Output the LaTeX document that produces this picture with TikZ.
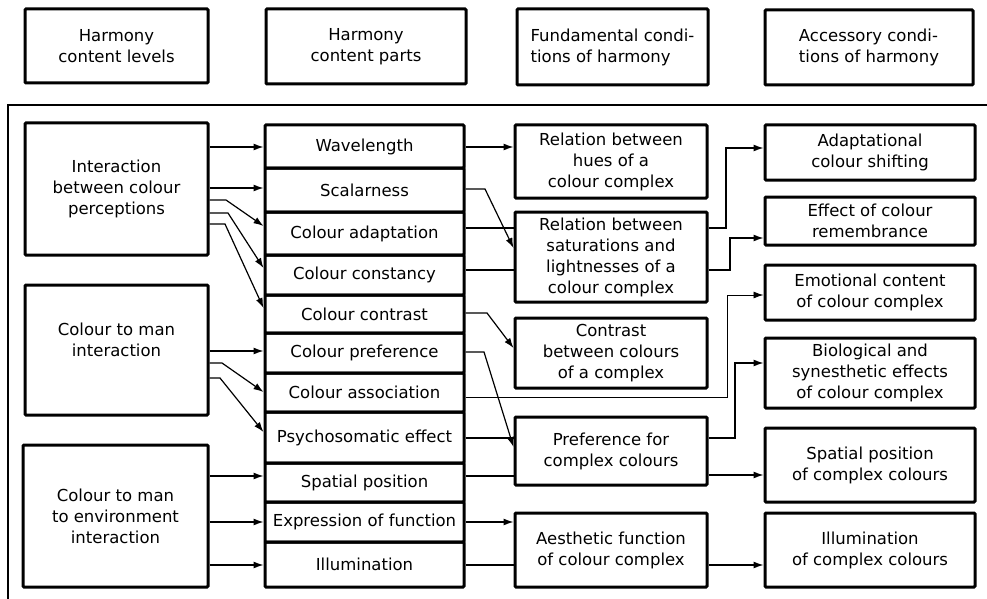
\documentclass[tikz,border=0pt]{standalone}
\usepackage{fontspec}
\setmainfont{DejaVu Sans}
\usetikzlibrary{arrows.meta}
\newcommand\mkbox[7][]{\node[box,#1,minimum width={#5-#3},minimum height={#6-#4}] (#2) at ({(#3+#5)/2},{(#4+#6)/2}) {#7};}
\begin{document}
\begin{tikzpicture}[x=1pt,y=-1pt,
  box/.style={draw, line width=3pt, rounded corners=1pt, align=center, inner sep=0pt,
    font=\fontsize{16.5}{21}\selectfont},
  conn/.style={line width=1.2pt},
  arr/.style={conn, -{Latex[length=10pt,width=7pt]}},
  frame/.style={line width=1.4pt}
]
\useasboundingbox (0,0) rectangle (987,599);
% outer frame (only top and left visible)
\draw[frame] (8,599) -- (8,105) -- (987,105);
% headers
\mkbox{h1}{25}{9}{208}{83}{Harmony\\content levels}
\mkbox{h2}{266}{9}{466}{84}{Harmony\\content parts}
\mkbox[align=left]{h3}{517}{9}{708}{85}{Fundamental condi-\\tions of harmony}
\mkbox[align=left]{h4}{765}{10}{973}{85}{Accessory condi-\\tions of harmony}
% left column
\mkbox{L1}{25}{123}{208}{255}{Interaction\\between colour\\perceptions}
\mkbox{L2}{25}{285}{208}{415}{Colour to man\\interaction\\[0pt]\mbox{}}
\mkbox{L3}{23}{445}{208}{587}{Colour to man\\to environment\\interaction}
% middle column
\mkbox{m1}{265}{125}{464}{168}{Wavelength}
\mkbox{m2}{265}{168}{464}{212}{Scalarness}
\mkbox{m3}{265}{212}{464}{255}{Colour adaptation}
\mkbox{m4}{265}{255}{464}{295}{Colour constancy}
\mkbox{m5}{265}{295}{464}{333}{Colour contrast}
\mkbox{m6}{265}{333}{464}{373}{Colour preference}
\mkbox{m7}{265}{373}{464}{412}{Colour association}
\mkbox{m8}{265}{412}{464}{463}{Psychosomatic effect}
\mkbox{m9}{265}{463}{464}{502}{Spatial position}
\mkbox{m10}{265}{502}{464}{542}{Expression of function}
\mkbox{m11}{265}{542}{464}{587}{Illumination}
% fundamental conditions
\mkbox{f1}{515}{125}{707}{198}{Relation between\\hues of a\\colour complex}
\mkbox{f2}{515}{212}{707}{302}{Relation between\\saturations and\\lightnesses of a\\colour complex}
\mkbox{f3}{515}{318}{707}{388}{Contrast\\between colours\\of a complex}
\mkbox{f4}{515}{417}{707}{485}{Preference for\\complex colours}
\mkbox{f5}{515}{513}{707}{587}{Aesthetic function\\of colour complex}
% accessory conditions
\mkbox{a1}{765}{125}{975}{180}{Adaptational\\colour shifting}
\mkbox{a2}{765}{197}{975}{245}{Effect of colour\\remembrance}
\mkbox{a3}{765}{265}{975}{320}{Emotional content\\of colour complex}
\mkbox{a4}{765}{338}{975}{408}{Biological and\\synesthetic effects\\of colour complex}
\mkbox{a5}{765}{428}{975}{502}{Spatial position\\of complex colours}
\mkbox{a6}{765}{513}{975}{587}{Illumination\\of complex colours}
% levels -> parts
\draw[arr] (L1.east |- 0,147) -- (m1.west |- 0,147);
\draw[arr] (L1.east |- 0,188) -- (m2.west |- 0,188);
\draw[arr] (L1.east |- 0,200) -- (226,200) -- (m3.west |- 0,226);
\draw[arr] (L1.east |- 0,213) -- (228,213) -- (m4.west |- 0,268);
\draw[arr] (L1.east |- 0,224) -- (225,224) -- (m5.west |- 0,308);
\draw[arr] (L2.east |- 0,351) -- (m6.west |- 0,351);
\draw[arr] (L2.east |- 0,363) -- (222,363) -- (m7.west |- 0,392);
\draw[arr] (L2.east |- 0,378) -- (220,378) -- (m8.west |- 0,432);
\draw[arr] (L3.east |- 0,476) -- (m9.west |- 0,476);
\draw[arr] (L3.east |- 0,522) -- (m10.west |- 0,522);
\draw[arr] (L3.east |- 0,565) -- (m11.west |- 0,565);
% parts -> fundamental conditions
\draw[arr] (m1.east |- 0,147) -- (f1.west |- 0,147);
\draw[arr] (m2.east |- 0,189) -- (485,189) -- (f2.west |- 0,248);
\draw[conn] (m3.east |- 0,228) -- (f2.west |- 0,228);
\draw[conn] (m4.east |- 0,270) -- (f2.west |- 0,270);
\draw[arr] (m5.east |- 0,313) -- (487,313) -- (f3.west |- 0,348);
\draw[arr] (m6.east |- 0,352) -- (484,352) -- (f4.west |- 0,447);
\draw[conn] (m8.east |- 0,438) -- (f4.west |- 0,438);
\draw[conn] (m9.east |- 0,476) -- (f4.west |- 0,476);
\draw[arr] (m10.east |- 0,522) -- (f5.west |- 0,522);
\draw[conn] (m11.east |- 0,565) -- (f5.west |- 0,565);
% parts -> accessory (association)
\draw[arr, line width=0.9pt] (m7.east |- 0,397) -- (727,397) -- (727,295) -- (a3.west |- 0,295);
% fundamental -> accessory
\draw[arr] (f2.east |- 0,228) -- (726,228) -- (726,148) -- (a1.west |- 0,148);
\draw[arr] (f2.east |- 0,270) -- (730,270) -- (730,238) -- (a2.west |- 0,238);
\draw[arr] (f4.east |- 0,438) -- (735,438) -- (735,363) -- (a4.west |- 0,363);
\draw[arr] (f4.east |- 0,475) -- (a5.west |- 0,475);
\draw[arr] (f5.east |- 0,565) -- (a6.west |- 0,565);
\end{tikzpicture}
\end{document}
